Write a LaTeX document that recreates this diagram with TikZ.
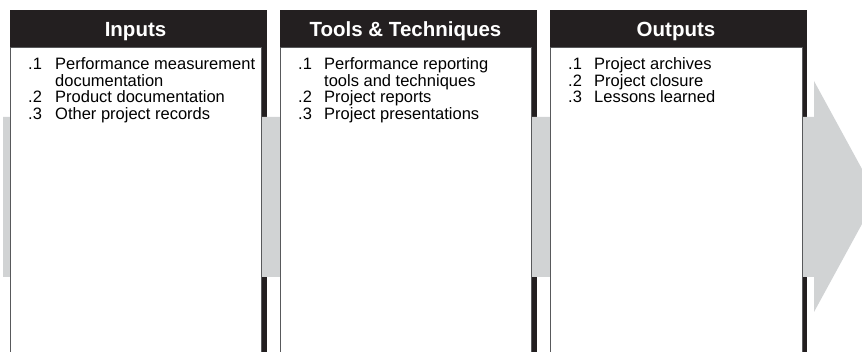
\documentclass[tikz,border=0pt]{standalone}
\usepackage{fontspec}
\setmainfont{Liberation Sans}
\definecolor{frameblack}{HTML}{231F20}
\definecolor{bandgray}{HTML}{D1D3D4}
\definecolor{edgegray}{HTML}{58595B}

\begin{document}
\begin{tikzpicture}[
    x=1pt, y=-1pt,
    frame/.style={fill=frameblack},
    sheet/.style={fill=white, draw=edgegray, line width=0.9pt},
    head/.style={text=white, font=\bfseries\fontsize{20.5}{22}\selectfont, inner sep=0pt, anchor=base},
    items/.style={font=\fontsize{16.5}{16}\selectfont, inner sep=0pt, anchor=base west}
]
    \clip (0,0) rectangle (862,352);

    % 黑色外框 (3个)
    \fill[frame] (10,10) rectangle (267,370);    % Inputs
    \fill[frame] (280,10) rectangle (537,370);   % Tools & Techniques
    \fill[frame] (550,10) rectangle (807,370);   % Outputs

    % 灰色大箭头 (在外框之上, 白色内框之下)
    \fill[bandgray] (3,117) -- (814,117) -- (814,81) -- (877,196.5)
        -- (814,312) -- (814,277) -- (3,277) -- cycle;

    % 白色内框
    \draw[sheet] (10,47) rectangle (261,370);
    \draw[sheet] (280,47) rectangle (531,370);
    \draw[sheet] (550,47) rectangle (802,370);

    % 标题
    \node[head] (inputs) at (135.5,36.5) {Inputs};
    \node[head] (tools) at (405.5,36.5) {Tools \& Techniques};
    \node[head] (outputs) at (676,36.5) {Outputs};

    % 1. Inputs 列表
    \node[items] (inlist) at (28,69.3) {%
        \begin{tabular}[t]{@{}p{27pt}@{}l@{}}
        .1 & Performance measurement\\
           & documentation\\
        .2 & Product documentation\\
        .3 & Other project records
        \end{tabular}};

    % 2. Tools & Techniques 列表
    \node[items] (toollist) at (298,69.3) {%
        \begin{tabular}[t]{@{}p{26pt}@{}l@{}}
        .1 & Performance reporting\\
           & tools and techniques\\
        .2 & Project reports\\
        .3 & Project presentations
        \end{tabular}};

    % 3. Outputs 列表
    \node[items] (outlist) at (568,69.3) {%
        \begin{tabular}[t]{@{}p{26pt}@{}l@{}}
        .1 & Project archives\\
        .2 & Project closure\\
        .3 & Lessons learned
        \end{tabular}};

\end{tikzpicture}
\end{document}
